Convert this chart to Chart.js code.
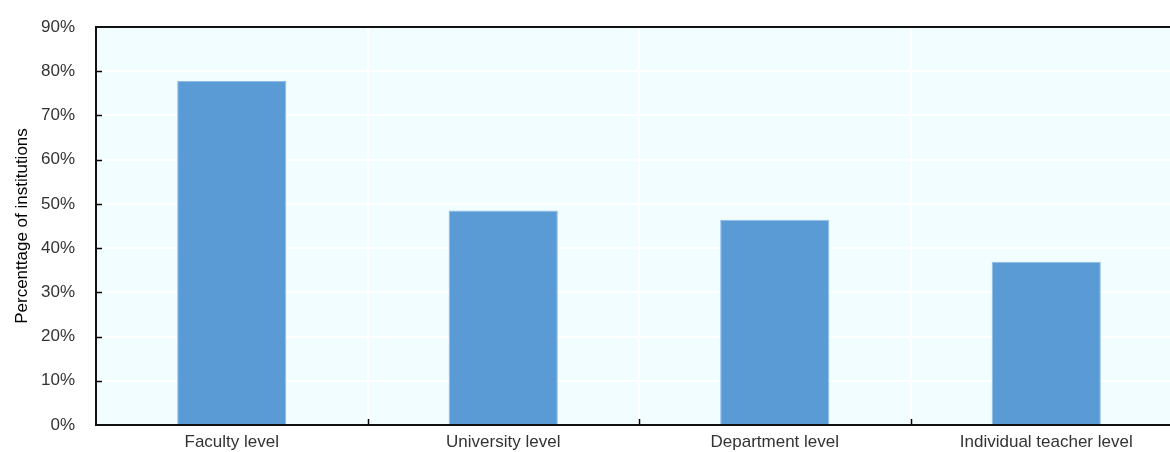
<!DOCTYPE html>
<html>
<head>
<meta charset="utf-8">
<style>
  html, body { margin: 0; padding: 0; background: #ffffff; overflow: hidden; }
  #wrap { width: 1190px; height: 452px; position: relative; }
</style>
<script src="https://cdn.jsdelivr.net/npm/chart.js@4/dist/chart.umd.min.js"></script>
</head>
<body>
<div id="wrap"><canvas id="chart" width="1190" height="452"></canvas></div>
<script>
// Level at which teaching practices are evaluated
const categories = ['Faculty level', 'University level', 'Department level', 'Individual teacher level'];
const shareOfInstitutions = [77.8, 48.5, 46.4, 36.9];
const yTicks = [0, 10, 20, 30, 40, 50, 60, 70, 80, 90];
const yTitle = 'Percenttage of institutions';

const FONT = "'Liberation Sans', Arial, sans-serif";

// Pale plot background, frame and inward tick marks
const plotFrame = {
  id: 'plotFrame',
  beforeDraw(chart) {
    const { ctx, chartArea: a } = chart;
    ctx.save();
    ctx.fillStyle = '#F2FDFF';
    ctx.fillRect(a.left, a.top, a.right - a.left, a.bottom - a.top);
    ctx.restore();
  },
  afterDraw(chart) {
    const { ctx, chartArea: a, scales } = chart;
    ctx.save();
    ctx.strokeStyle = '#000000';
    ctx.lineWidth = 1.5;
    // inward ticks on the value axis
    scales.y.ticks.forEach((t) => {
      if (t.value === 0 || t.value === 90) return;
      const y = Math.round(scales.y.getPixelForValue(t.value)) + 0.5;
      ctx.beginPath();
      ctx.moveTo(a.left, y);
      ctx.lineTo(a.left + 6, y);
      ctx.stroke();
    });
    // inward ticks between categories
    for (let i = 1; i < categories.length; i++) {
      const x = Math.round((scales.x.getPixelForValue(i - 1) + scales.x.getPixelForValue(i)) / 2) + 0.5;
      ctx.beginPath();
      ctx.moveTo(x, a.bottom);
      ctx.lineTo(x, a.bottom - 6);
      ctx.stroke();
    }
    // frame
    ctx.lineWidth = 2;
    ctx.strokeStyle = '#111111';
    ctx.strokeRect(a.left, a.top, a.right - a.left, a.bottom - a.top);
    ctx.restore();
  }
};

new Chart(document.getElementById('chart'), {
  type: 'bar',
  data: {
    labels: categories,
    datasets: [{
      data: shareOfInstitutions,
      backgroundColor: '#5B9BD5',
      borderColor: '#8DBCE6',
      borderWidth: 1,
      categoryPercentage: 1.0,
      barPercentage: 0.402
    }]
  },
  options: {
    responsive: false,
    animation: false,
    devicePixelRatio: 1,
    layout: { padding: { top: 27, right: 8, left: 0, bottom: 0 } },
    plugins: { legend: { display: false }, tooltip: { enabled: false } },
    scales: {
      x: {
        grid: { color: '#FFFFFF', lineWidth: 2, offset: true, drawTicks: false },
        border: { display: false },
        ticks: { color: '#333333', font: { family: FONT, size: 17 }, padding: 7, maxRotation: 0, autoSkip: false },
        afterFit(scale) {
          scale.height = 27;
          scale.paddingLeft = 0;
          scale.paddingRight = 0;
        }
      },
      y: {
        min: 0,
        max: 90,
        afterBuildTicks(scale) { scale.ticks = yTicks.map((v) => ({ value: v })); },
        grid: { color: '#FFFFFF', lineWidth: 2, drawTicks: false },
        border: { display: false },
        ticks: {
          color: '#333333',
          font: { family: FONT, size: 17 },
          padding: 21,
          callback: (v) => v + '%'
        },
        title: {
          display: true,
          text: yTitle,
          color: '#000000',
          font: { family: FONT, size: 17 },
          padding: { top: 12, bottom: 0 }
        },
        afterFit(scale) {
          scale.width = 96;
          scale.paddingTop = 0;
          scale.paddingBottom = 0;
        }
      }
    }
  },
  plugins: [plotFrame]
});
</script>
</body>
</html>
